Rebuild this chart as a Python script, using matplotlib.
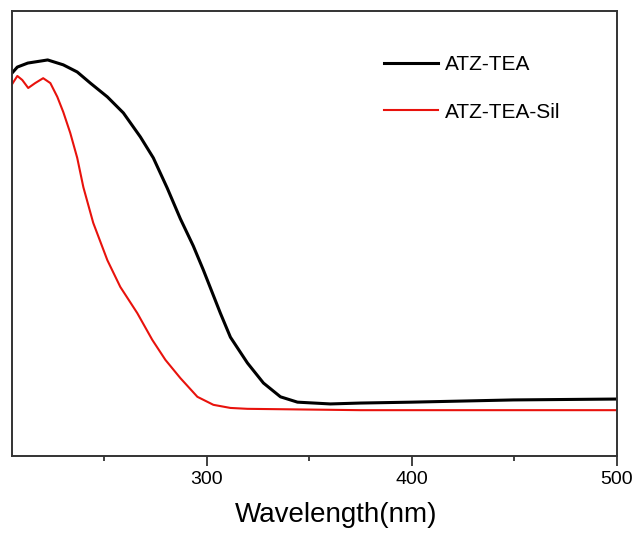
import matplotlib
matplotlib.use("Agg")
import matplotlib.pyplot as plt
from matplotlib.ticker import MultipleLocator

plt.rcParams['font.family'] = ['Liberation Sans', 'DejaVu Sans']

# ATZ-TEA (black), absorbance as fraction of axis height
wl_tea = [205.1, 207.6, 212.7, 222.4, 230.0, 236.8, 243.2, 251.5, 259.3, 267.6,
          273.9, 280.7, 287.1, 293.4, 298.3, 306.6, 311.5, 319.8, 327.6, 335.9,
          344.2, 360.2, 374.9, 399.8, 449.5, 500.0]
abs_tea = [0.861, 0.874, 0.883, 0.890, 0.879, 0.863, 0.838, 0.807, 0.771, 0.717,
           0.670, 0.602, 0.533, 0.472, 0.418, 0.321, 0.267, 0.209, 0.164, 0.133,
           0.121, 0.117, 0.119, 0.121, 0.126, 0.128]

# ATZ-TEA-Sil (red)
wl_sil = [205.1, 207.6, 210.0, 212.9, 216.3, 220.2, 223.7, 227.1, 230.0, 233.4,
          236.8, 239.8, 244.6, 251.5, 257.8, 266.1, 273.4, 279.8, 287.1, 295.4,
          303.2, 311.5, 319.8, 374.9, 500.0]
abs_sil = [0.836, 0.854, 0.845, 0.827, 0.838, 0.849, 0.838, 0.807, 0.773, 0.726,
           0.670, 0.604, 0.524, 0.440, 0.380, 0.321, 0.261, 0.216, 0.175, 0.133,
           0.115, 0.108, 0.106, 0.103, 0.103]

fig = plt.figure(figsize=(6.36, 5.35), dpi=100)
ax = fig.add_axes([12 / 636, 1 - 456 / 535, 605 / 636, 445 / 535])

ax.plot(wl_tea, abs_tea, color='black', lw=2.2, label='ATZ-TEA')
ax.plot(wl_sil, abs_sil, color='#e8120c', lw=1.5, label='ATZ-TEA-Sil')

ax.set_xlim(205, 500)
ax.set_ylim(0, 1)
ax.xaxis.set_major_locator(MultipleLocator(100))
ax.xaxis.set_minor_locator(MultipleLocator(50))
ax.set_yticks([])
ax.tick_params(axis='x', which='major', direction='out', length=7, width=1.3,
               labelsize=14, pad=4, color='#333333')
ax.tick_params(axis='x', which='minor', direction='out', length=3.6, width=1.3,
               color='#333333')
for s in ax.spines.values():
    s.set_linewidth(1.4)
    s.set_color('#333333')

ax.set_xlabel('Wavelength(nm)', fontsize=20)
ax.xaxis.set_label_coords(0.535, -0.104)

ax.legend(frameon=False, loc='upper left', bbox_to_anchor=(0.615, 0.90),
          fontsize=15, handlelength=2.6, handletextpad=0.3, labelspacing=1.35,
          borderpad=0, borderaxespad=0)

fig.savefig('out.png', dpi=100)
